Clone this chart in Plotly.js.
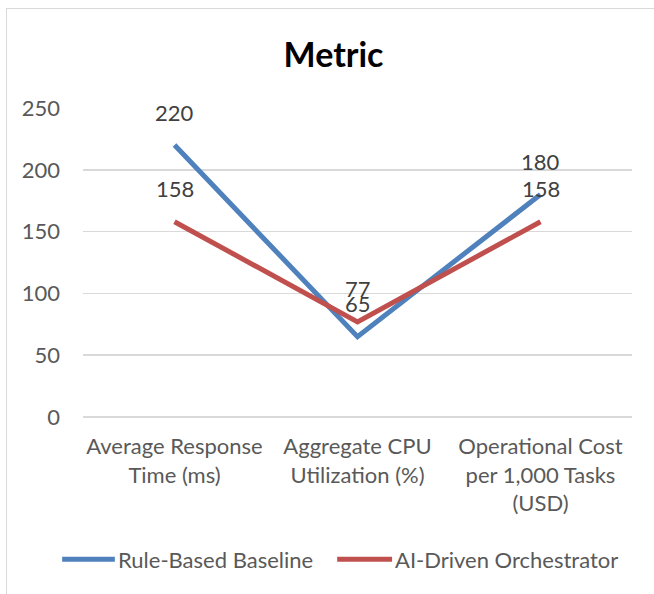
<!DOCTYPE html>
<html><head><meta charset="utf-8">
<script src="https://cdn.plot.ly/plotly-3.0.1.min.js"></script>
<style>
html,body{margin:0;padding:0;background:#fff;overflow:hidden;}
#frame{position:absolute;left:6px;top:8px;width:700px;height:700px;border:1.5px solid #d9d9d9;box-sizing:border-box;}
#chart{position:absolute;left:0;top:0;width:654px;height:594px;}
</style></head>
<body>
<div id="frame"></div>
<div id="chart"></div>
<script>
const categories = ["Average Response<br>Time (ms)", "Aggregate CPU<br>Utilization (%)", "Operational Cost<br>per 1,000 Tasks<br>(USD)"];
const seriesNames = ["Rule-Based Baseline", "AI-Driven Orchestrator"];
const baseline = [220, 65, 180];
const orchestrator = [158, 77, 158];
const yTicks = [0, 50, 100, 150, 200, 250];

const xIdx = categories.map((_, i) => i);
const fontFam = "Lato, 'Open Sans', sans-serif";
const colors = ["#4f81bd", "#c0504d"];

const traces = [baseline, orchestrator].map((vals, k) => ({
  x: xIdx, y: vals, name: seriesNames[k], type: 'scatter', mode: 'lines',
  line: {color: colors[k], width: 5}, hoverinfo: 'skip', showlegend: false
}));

const annotations = [];
[baseline, orchestrator].forEach(vals => {
  vals.forEach((v, i) => {
    annotations.push({x: i, y: v, xref: 'x', yref: 'y', text: String(v), showarrow: false,
      yshift: 33, font: {family: fontFam, size: 22, color: '#404040'}});
  });
});

// custom legend (long line samples like the reference)
const legendY = -0.46;
const legendItems = [{x0: -0.038, x1: 0.058}, {x0: 0.463, x1: 0.563}];
const shapes = [];
legendItems.forEach((it, k) => {
  shapes.push({type: 'line', xref: 'paper', yref: 'paper', x0: it.x0, x1: it.x1, y0: legendY, y1: legendY,
    line: {color: colors[k], width: 5}, layer: 'above'});
  annotations.push({xref: 'paper', yref: 'paper', x: it.x1 + 0.002, y: legendY, xanchor: 'left', yanchor: 'middle',
    text: seriesNames[k], showarrow: false, font: {family: fontFam, size: 22, color: '#595959'}});
});

const layout = {
  width: 654, height: 594,
  paper_bgcolor: 'rgba(0,0,0,0)', plot_bgcolor: 'rgba(0,0,0,0)',
  margin: {l: 83, r: 22, t: 108, b: 177},
  title: {text: '<b>Metric</b>', x: 0.51, xanchor: 'center', y: 0.907, yanchor: 'middle',
    font: {family: fontFam, size: 34, color: '#000'}},
  xaxis: {range: [-0.5, 2.5], tickvals: xIdx, ticktext: categories, showgrid: false,
    zeroline: false, showline: false, ticks: '', ticklabelstandoff: 14,
    tickfont: {family: fontFam, size: 22, color: '#595959'}},
  yaxis: {range: [0, 250], tickvals: yTicks, showgrid: true, gridcolor: '#d9d9d9', gridwidth: 1.5,
    zeroline: true, zerolinecolor: '#d9d9d9', zerolinewidth: 1.5, showline: false, ticks: '', ticklabelstandoff: 22,
    tickfont: {family: fontFam, size: 22, color: '#595959'}},
  showlegend: false,
  annotations: annotations,
  shapes: shapes
};
Plotly.newPlot('chart', traces, layout, {displayModeBar: false, staticPlot: true});
</script>
</body></html>
